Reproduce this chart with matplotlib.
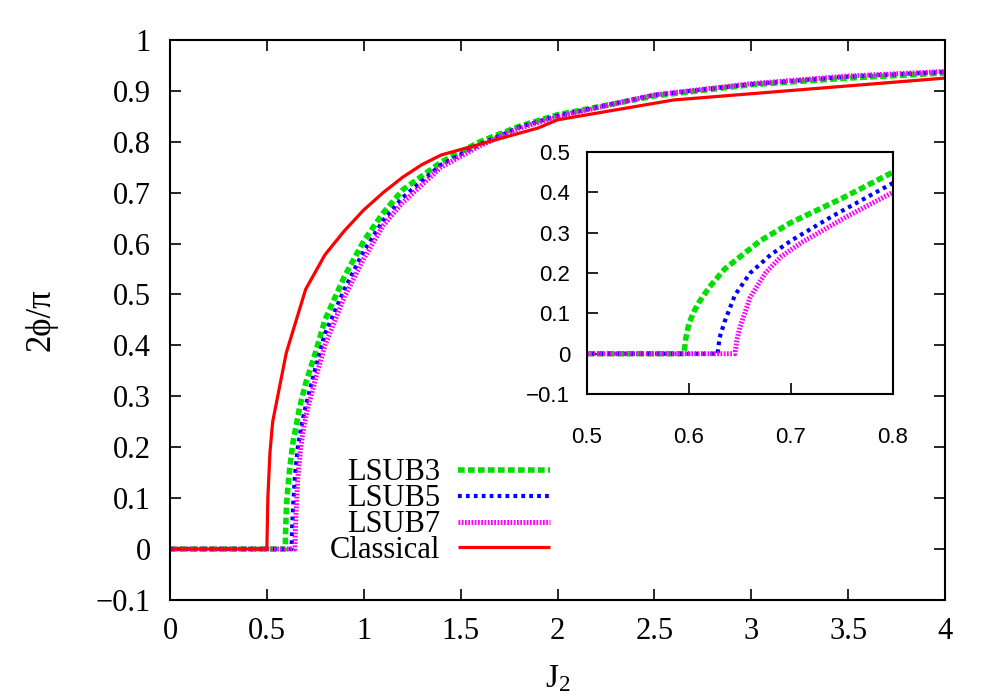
import matplotlib
matplotlib.use("Agg")
import matplotlib.pyplot as plt

# ---- data ----
j_l3 = [0, 0.595, 0.597, 0.6, 0.605, 0.61, 0.62, 0.635, 0.65, 0.67, 0.7, 0.75, 0.8, 0.9, 1.0, 1.1, 1.2, 1.4, 1.6, 1.8, 2.0, 2.5, 3.0, 3.5, 4.0]
v_l3 = [0, 0, 0.04, 0.075, 0.105, 0.128, 0.165, 0.21, 0.24, 0.28, 0.325, 0.385, 0.45, 0.535, 0.605, 0.66, 0.705, 0.76, 0.80, 0.83, 0.853, 0.89, 0.912, 0.925, 0.935]

j_l5 = [0, 0.628, 0.63, 0.635, 0.645, 0.66, 0.68, 0.7, 0.74, 0.8, 0.9, 1.0, 1.1, 1.2, 1.4, 1.6, 1.8, 2.0, 2.5, 3.0, 3.5, 4.0]
v_l5 = [0, 0, 0.04, 0.08, 0.145, 0.20, 0.245, 0.28, 0.34, 0.423, 0.51, 0.585, 0.645, 0.69, 0.755, 0.795, 0.828, 0.851, 0.892, 0.913, 0.928, 0.937]

j_l7 = [0, 0.645, 0.647, 0.65, 0.66, 0.675, 0.69, 0.71, 0.755, 0.8, 0.9, 1.0, 1.1, 1.2, 1.4, 1.6, 1.8, 2.0, 2.5, 3.0, 3.5, 4.0]
v_l7 = [0, 0, 0.035, 0.066, 0.14, 0.20, 0.24, 0.275, 0.34, 0.40, 0.495, 0.57, 0.635, 0.68, 0.75, 0.792, 0.826, 0.849, 0.892, 0.914, 0.929, 0.938]

j_cl = [0, 0.5, 0.505, 0.516, 0.53, 0.6, 0.7, 0.8, 0.9, 1.0, 1.1, 1.2, 1.3, 1.4, 1.9, 2.0, 2.6, 4.0]
v_cl = [0, 0, 0.1, 0.19, 0.25, 0.385, 0.51, 0.578, 0.625, 0.666, 0.70, 0.73, 0.755, 0.774, 0.827, 0.843, 0.882, 0.925]

labels = ["LSUB3", "LSUB5", "LSUB7", "Classical"]
main_xticks = [0, 0.5, 1, 1.5, 2, 2.5, 3, 3.5, 4]
main_yticks = [-0.1, 0, 0.1, 0.2, 0.3, 0.4, 0.5, 0.6, 0.7, 0.8, 0.9, 1]
inset_xticks = [0.5, 0.6, 0.7, 0.8]
inset_yticks = [-0.1, 0, 0.1, 0.2, 0.3, 0.4, 0.5]

SERIF = ["Liberation Serif", "DejaVu Serif"]
SANS = ["Liberation Sans", "DejaVu Sans"]
plt.rcParams["font.family"] = SERIF
plt.rcParams["mathtext.fontset"] = "custom"
plt.rcParams["mathtext.rm"] = "Liberation Serif"
plt.rcParams["mathtext.it"] = "Liberation Serif"

styles = [
    dict(color="#00e000", lw=4.0, dashes=(1.2, 0.6)),
    dict(color="#0000ff", lw=3.0, dashes=(0.9, 1.0)),
    dict(color="#ff00ff", lw=3.6, dashes=(0.35, 0.3)),
    dict(color="#ff0000", lw=2.3, linestyle="-"),
]

fig = plt.figure(figsize=(10, 7), dpi=100)
ax = fig.add_axes([0.17, 0.143, 0.775, 0.8])

series = [(j_l3, v_l3), (j_l5, v_l5), (j_l7, v_l7), (j_cl, v_cl)]
for (x, y), st, lab in zip(series, styles, labels):
    ax.plot(x, y, label=lab, solid_capstyle="butt", dash_capstyle="butt", **st)

ax.set_xlim(0, 4)
ax.set_ylim(-0.1, 1)
ax.set_xticks(main_xticks)
ax.set_xticklabels([f"{t:g}" for t in main_xticks])
ax.set_yticks(main_yticks)
ax.set_yticklabels([f"{t:g}".replace("-", "\u2212") for t in main_yticks])
ax.tick_params(direction="in", top=True, right=True, length=8, width=1.2,
               labelsize=22)
ax.tick_params(axis="y", pad=14)
ax.tick_params(axis="x", pad=12)
for s in ax.spines.values():
    s.set_linewidth(1.5)
ax.set_xlabel("J$_2$", fontsize=24, labelpad=13)
ax.set_ylabel("2\u03d5/\u03c0", fontsize=25, labelpad=27)

leg = ax.legend(loc="lower right", bbox_to_anchor=(0.49, 0.062), frameon=False,
                markerfirst=False, fontsize=22, handlelength=3.0,
                handletextpad=0.6, labelspacing=-0.1, borderpad=0, borderaxespad=0)

# ---- inset ----
ins = fig.add_axes([0.587, 0.437, 0.306, 0.346])
for (x, y), st in zip(series[:3], styles[:3]):
    ins.plot(x, y, solid_capstyle="butt", dash_capstyle="butt", **st)
ins.set_xlim(0.5, 0.8)
ins.set_ylim(-0.1, 0.5)
ins.set_xticks(inset_xticks)
ins.set_xticklabels([f"{t:g}" for t in inset_xticks], family=SANS)
ins.set_yticks(inset_yticks)
ins.set_yticklabels([f"{t:g}".replace("-", "\u2212") for t in inset_yticks], family=SANS)
ins.tick_params(direction="in", length=8, width=1.2, labelsize=16)
ins.tick_params(axis="x", pad=24)
ins.tick_params(axis="y", pad=12)
for s in ins.spines.values():
    s.set_linewidth(1.5)

fig.savefig("out.png", dpi=100)
